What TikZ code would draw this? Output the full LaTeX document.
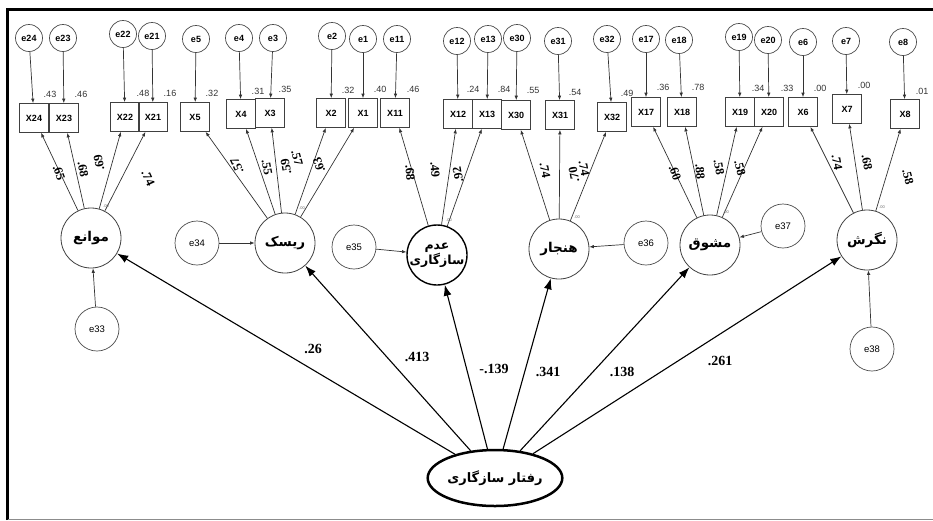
\documentclass[tikz,border=0pt]{standalone}
\usepackage{fontspec}
\usetikzlibrary{arrows.meta,shapes.geometric}
\setmainfont{Liberation Serif}
\newfontfamily\arialfont{Liberation Sans}
\newfontfamily\farsifont[Script=Arabic]{DejaVu Sans}
\TeXXeTstate=1
\newcommand{\fa}[1]{{\farsifont\bfseries\beginR #1\endR}}

\tikzset{
  obs/.style={draw=black!75, line width=0.7pt, minimum width=29pt, minimum height=29pt, inner sep=0pt, font=\arialfont\bfseries\fontsize{9}{10}\selectfont},
  errsmall/.style={circle, draw=black!70, line width=0.7pt, minimum size=27pt, inner sep=0pt, font=\arialfont\bfseries\fontsize{9}{10}\selectfont},
  errbig/.style={circle, draw=black!70, line width=0.7pt, minimum size=44pt, inner sep=0pt, font=\arialfont\fontsize{9.5}{10}\selectfont},
  latent/.style={circle, draw=black!75, line width=0.8pt, minimum size=60pt, inner sep=0pt, font=\fontsize{13.5}{17}\selectfont},
  rsq/.style={font=\arialfont\fontsize{9}{10}\selectfont, text=black!80, inner sep=0pt},
  zerolab/.style={font=\arialfont\fontsize{4}{4}\selectfont, text=black!60, inner sep=0pt},
  loadlab/.style={font=\bfseries\fontsize{12.5}{12.5}\selectfont, inner sep=0pt},
  coef/.style={font=\bfseries\fontsize{14}{14}\selectfont, inner sep=0pt},
  meas/.style={-{Latex[length=4.5pt,width=3.5pt]}, line width=0.7pt, draw=black!80},
  struct/.style={-{Latex[length=11pt,width=8pt]}, line width=1.1pt},
}

\begin{document}
\begin{tikzpicture}[x=10pt,y=-10pt]
    \useasboundingbox (0,0) rectangle (93.3,52);

    % Frame
    \draw[line width=2.5pt] (0.75,52) -- (0.75,0.95) -- (93.3,0.95);
    \draw[black!45, line width=0.8pt] (0.75,51.95) -- (93.3,51.95);

    % Indicators with their errors
    \foreach \nm/\xb/\yb/\xe/\ye/\rsqv/\xr/\yr in {
        24/3.4/11.8/2.9/3.8/.43/5.0/9.4,
        23/6.4/11.8/6.3/3.8/.46/8.1/9.4,
        22/12.5/11.7/12.3/3.4/.48/14.3/9.3,
        21/15.3/11.7/15.2/3.6/.16/17.0/9.3,
        5/19.5/11.7/19.6/3.9/.32/21.2/9.3,
        4/24.1/11.4/23.9/3.8/.31/25.8/9.1,
        3/27.0/11.3/27.3/3.8/.35/28.5/8.9,
        2/33.1/11.3/33.2/3.6/.32/34.8/9.0,
        1/36.3/11.3/36.3/3.9/.40/38.0/8.9,
        11/39.5/11.3/39.7/3.9/.46/41.3/8.9,
        12/45.8/11.4/45.7/4.1/.24/47.3/8.9,
        13/48.7/11.4/48.8/3.9/.84/50.4/8.9,
        30/51.6/11.5/51.7/3.8/.55/53.3/9.0,
        31/56.0/11.5/55.8/4.1/.54/57.5/9.2,
        32/61.2/11.7/60.7/3.9/.49/62.7/9.3,
        17/64.6/11.2/64.6/3.9/.36/66.3/8.7,
        18/68.2/11.2/67.9/4.0/.78/69.8/8.7,
        19/74.0/11.2/73.9/3.7/.34/75.8/8.8,
        20/76.9/11.2/76.8/4.0/.33/78.7/8.8,
        6/80.3/11.2/80.3/4.2/.00/82.0/8.8,
        7/84.7/10.9/84.6/4.1/.00/86.4/8.5,
        8/90.5/11.4/90.3/4.2/.01/92.2/9.1}{
        \node[obs] (x\nm) at (\xb,\yb) {X\nm};
        \node[errsmall] (e\nm) at (\xe,\ye) {e\nm};
        \draw[meas] (e\nm) -- (x\nm);
        \node[rsq] (r\nm) at (\xr,\yr) {\rsqv};
    }

    % Latent variables
    \node[latent] (mav) at (9.1,23.8) {\fa{موانع}};
    \node[latent] (risk) at (28.5,24.3) {\fa{ریسک}};
    \node[latent, draw=black, line width=1.4pt, align=center, font=\fontsize{12.5}{15}\selectfont] (adam) at (43.7,25.5) {\fa{عدم}\\\fa{سازگاری}};
    \node[latent] (hanj) at (55.9,24.9) {\fa{هنجار}};
    \node[latent] (mosh) at (71.0,24.5) {\fa{مشوق}};
    \node[latent] (neg) at (86.7,24.0) {\fa{نگرش}};
    \node[ellipse, draw, line width=2.5pt, minimum width=118pt, minimum height=56pt, inner sep=0pt, font=\fontsize{13}{15}\selectfont] (raftar) at (49.5,47.8) {\fa{رفتار سازگاری}};

    % Residuals of latents
    \node[errbig] (e33) at (9.7,32.9) {e33};
    \node[errbig] (e34) at (19.7,24.3) {e34};
    \node[errbig] (e35) at (35.4,24.7) {e35};
    \node[errbig] (e36) at (64.6,24.3) {e36};
    \node[errbig] (e37) at (78.3,22.6) {e37};
    \node[errbig] (e38) at (87.2,34.9) {e38};
    \draw[meas] (e33) -- (mav);
    \draw[meas] (e34) -- (risk);
    \draw[meas] (e35) -- (adam);
    \draw[meas] (e36) -- (hanj);
    \draw[meas] (e37) -- (mosh);
    \draw[meas] (e38) -- (neg);

    % Loadings
    \draw[meas] (mav) -- (x24);
    \draw[meas] (mav) -- (x23);
    \draw[meas] (mav) -- (x22);
    \draw[meas] (mav) -- (x21);
    \draw[meas] (risk) -- (x5);
    \draw[meas] (risk) -- (x4);
    \draw[meas] (risk) -- (x3);
    \draw[meas] (risk) -- (x2);
    \draw[meas] (risk) -- (x1);
    \draw[meas] (adam) -- (x11);
    \draw[meas] (adam) -- (x12);
    \draw[meas] (adam) -- (x13);
    \draw[meas] (hanj) -- (x30);
    \draw[meas] (hanj) -- (x31);
    \draw[meas] (hanj) -- (x32);
    \draw[meas] (mosh) -- (x17);
    \draw[meas] (mosh) -- (x18);
    \draw[meas] (mosh) -- (x19);
    \draw[meas] (mosh) -- (x20);
    \draw[meas] (neg) -- (x6);
    \draw[meas] (neg) -- (x7);
    \draw[meas] (neg) -- (x8);

    \node[loadlab, rotate=-70] (l24) at (5.9,17.3) {.65};
    \node[loadlab, rotate=-80] (l23) at (8.3,16.9) {.68};
    \node[loadlab, rotate=100] (l22) at (9.9,16.3) {.69};
    \node[loadlab, rotate=-65] (l21) at (14.8,17.8) {.74};
    \node[loadlab, rotate=115] (l5) at (23.7,16.6) {.57};
    \node[loadlab, rotate=-80] (l4) at (26.7,16.7) {.55};
    \node[loadlab, rotate=100] (l3) at (28.6,16.7) {.59};
    \node[loadlab, rotate=-75] (l2) at (29.7,15.8) {.57};
    \node[loadlab, rotate=110] (l1) at (31.9,16.5) {.63};
    \node[loadlab, rotate=-85] (l11) at (41.0,17.3) {.68};
    \node[loadlab, rotate=-85] (l12) at (43.5,17.0) {.49};
    \node[loadlab, rotate=100] (l13) at (45.8,17.5) {.92};
    \node[loadlab, rotate=-80] (l30) at (54.5,17.0) {.74};
    \node[loadlab, rotate=100] (l31) at (57.4,17.5) {.70};
    \node[loadlab, rotate=-80] (l32) at (58.4,16.8) {.74};
    \node[loadlab, rotate=-70] (l17) at (67.5,17.3) {.60};
    \node[loadlab, rotate=-85] (l18) at (70.0,17.2) {.88};
    \node[loadlab, rotate=-80] (l19) at (71.9,16.7) {.58};
    \node[loadlab, rotate=-75] (l20) at (74.0,16.8) {.58};
    \node[loadlab, rotate=-80] (l6) at (83.7,16.2) {.74};
    \node[loadlab, rotate=-80] (l7) at (86.7,16.2) {.68};
    \node[loadlab, rotate=-75] (l8) at (90.8,17.7) {.58};

    \node[zerolab] (z1) at (10.6,20.6) {.00};
    \node[zerolab] (z2) at (30.2,20.8) {.00};
    \node[zerolab] (z3) at (44.9,22.0) {.00};
    \node[zerolab] (z4) at (57.7,21.7) {.00};
    \node[zerolab] (z5) at (72.6,21.2) {.00};
    \node[zerolab] (z6) at (88.2,20.7) {.00};

    % Structural paths
    \draw[struct] (raftar) -- (mav);
    \draw[struct] (raftar) -- (risk);
    \draw[struct] (raftar) -- (adam);
    \draw[struct] (raftar) -- (hanj);
    \draw[struct] (raftar) -- (mosh);
    \draw[struct] (raftar) -- (neg);

    \node[coef] (c1) at (31.3,34.9) {.26};
    \node[coef] (c2) at (41.7,35.7) {.413};
    \node[coef] (c3) at (49.4,36.9) {-.139};
    \node[coef] (c4) at (54.8,37.2) {.341};
    \node[coef] (c5) at (62.2,37.2) {.138};
    \node[coef] (c6) at (72.0,36.1) {.261};
\end{tikzpicture}
\end{document}
